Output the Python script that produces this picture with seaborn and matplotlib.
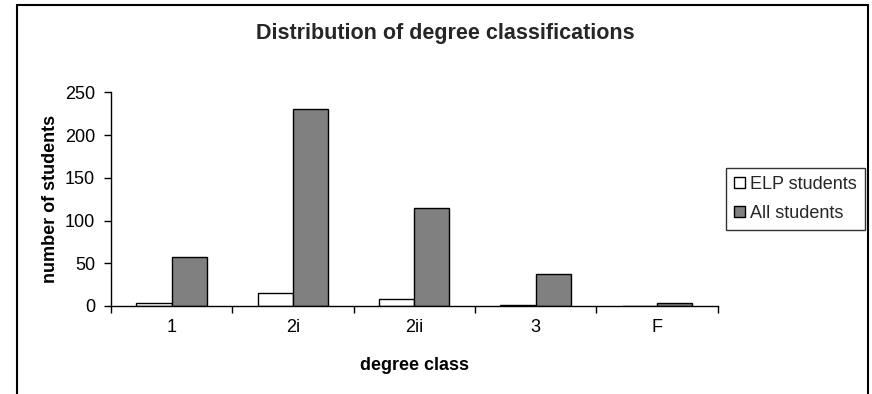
import matplotlib
matplotlib.use("Agg")
import matplotlib.pyplot as plt
import seaborn as sns
import pandas as pd
from matplotlib.patches import Rectangle

categories = ["1", "2i", "2ii", "3", "F"]
elp_students = [3, 15, 8, 1, 0]
all_students = [57, 230, 115, 38, 3]
series_names = ["ELP students", "All students"]

df = pd.DataFrame({
    "degree class": categories * 2,
    "number of students": elp_students + all_students,
    "group": [series_names[0]] * len(categories) + [series_names[1]] * len(categories),
})

sns.set_theme(style="white")
plt.rcParams["font.family"] = ["Liberation Sans", "DejaVu Sans"]

W, H = 872, 394
fig = plt.figure(figsize=(W / 100, H / 100), dpi=100)
ax_l, ax_r, ax_t, ax_b = 111, 717.5, 92.3, 306
ax = fig.add_axes([ax_l / W, 1 - ax_b / H, (ax_r - ax_l) / W, (ax_b - ax_t) / H])

sns.barplot(data=df, x="degree class", y="number of students", hue="group",
            order=categories, hue_order=series_names,
            palette={"ELP students": "white", "All students": "#808080"},
            width=0.58, edgecolor="black", linewidth=1.0, ax=ax, legend=True)

ax.set_ylim(0, 250)
ax.set_xlim(-0.5, 4.5)
ax.set_yticks([0, 50, 100, 150, 200, 250])
ax.tick_params(axis="y", direction="out", length=5, width=1, color="black",
               left=True, labelsize=13, pad=6.5, labelcolor="black")
ax.set_xticks([i - 0.5 for i in range(len(categories) + 1)])
ax.set_xticklabels([])
ax.set_xticks(range(len(categories)), minor=True)
ax.set_xticklabels(categories, minor=True)
ax.tick_params(axis="x", which="major", direction="out", length=5, width=1,
               color="black", bottom=True)
ax.tick_params(axis="x", which="minor", length=0, labelsize=13, pad=9.5,
               labelcolor="black")

for s in ["top", "right"]:
    ax.spines[s].set_visible(False)
for s in ["left", "bottom"]:
    ax.spines[s].set_color("black")
    ax.spines[s].set_linewidth(1)
ax.grid(False)

ax.set_xlabel("degree class", fontsize=13, fontweight="bold", labelpad=15, color="black")
ax.set_ylabel("number of students", fontsize=13, fontweight="bold", labelpad=4.5, color="black")
fig.text(445 / W, 1 - 34 / H, "Distribution of degree classifications",
         ha="center", va="center", fontsize=15.5, fontweight="bold")

leg = ax.legend(loc="upper right", bbox_to_anchor=(865 / W, 1 - 168 / H),
                bbox_transform=fig.transFigure, frameon=True, fancybox=False,
                edgecolor="black", fontsize=13, handlelength=0.6, handleheight=0.6,
                handletextpad=0.3, borderpad=0.45, labelspacing=0.65, borderaxespad=0)
leg.get_frame().set_linewidth(1)

fig.patches.append(Rectangle((16.7 / W, -0.05), (867.7 - 16.7) / W, 1 - 5 / H + 0.05,
                             transform=fig.transFigure, fill=False,
                             edgecolor="black", linewidth=1.5))

fig.savefig("out.png", dpi=100, facecolor="white")
